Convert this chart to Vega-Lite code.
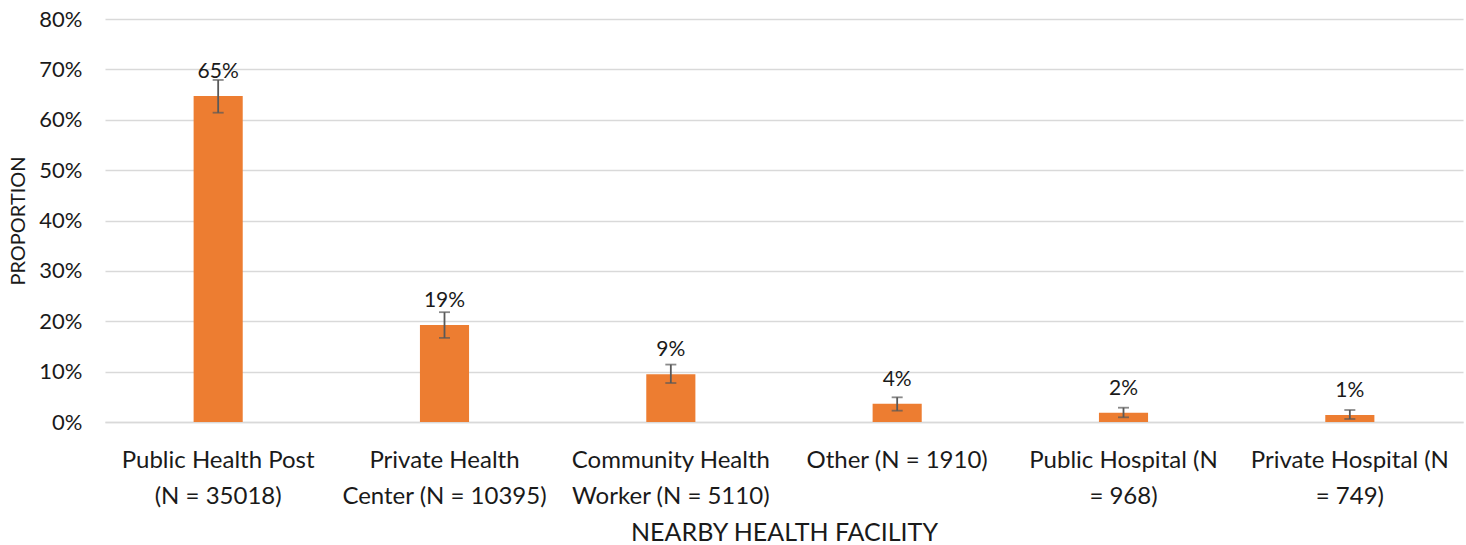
{
  "$schema": "https://vega.github.io/schema/vega-lite/v6.json",
  "width": 1358,
  "height": 403,
  "autosize": {"type": "none"},
  "padding": {"left": 105, "top": 19, "right": 3, "bottom": 123},
  "background": "white",
  "config": {
    "view": {"stroke": null},
    "font": "Lato",
    "axis": {"labelFont": "Lato", "titleFont": "Lato", "labelColor": "#1a1a1a", "titleColor": "#1a1a1a", "titleFontWeight": "normal"}
  },
  "data": {
    "values": [
      {"facility": "Public Health Post|(N = 35018)", "value": 0.647, "lo": 0.614, "hi": 0.679},
      {"facility": "Private Health|Center (N = 10395)", "value": 0.1925, "lo": 0.167, "hi": 0.218},
      {"facility": "Community Health|Worker (N = 5110)", "value": 0.0946, "lo": 0.0774, "hi": 0.114},
      {"facility": "Other (N = 1910)", "value": 0.0364, "lo": 0.0225, "hi": 0.049},
      {"facility": "Public Hospital (N|= 968)", "value": 0.0185, "lo": 0.0093, "hi": 0.0284},
      {"facility": "Private Hospital (N|= 749)", "value": 0.0139, "lo": 0.006, "hi": 0.0238}
    ]
  },
  "encoding": {
    "x": {
      "field": "facility",
      "type": "nominal",
      "sort": null,
      "scale": {"paddingInner": 0.783, "paddingOuter": 0.3915},
      "axis": {
        "title": "NEARBY HEALTH FACILITY",
        "titleFontSize": 25,
        "titlePadding": 12,
        "labelAngle": 0,
        "labelFontSize": 24,
        "labelLineHeight": 36,
        "labelPadding": 26,
        "labelLimit": 300,
        "labelOverlap": false,
        "labelExpr": "split(datum.value, '|')",
        "ticks": false,
        "domain": true,
        "domainColor": "#d9d9d9",
        "domainWidth": 1.5
      }
    }
  },
  "layer": [
    {
      "mark": {"type": "bar", "color": "#ED7D31"},
      "encoding": {
        "y": {
          "field": "value",
          "type": "quantitative",
          "scale": {"domain": [0, 0.8], "nice": false},
          "axis": {
            "title": "PROPORTION",
            "titleFontSize": 20,
            "titlePadding": 10,
            "format": ".0%",
            "values": [0, 0.1, 0.2, 0.3, 0.4, 0.5, 0.6, 0.7, 0.8],
            "labelOverlap": false,
            "labelFontSize": 22,
            "labelPadding": 23,
            "ticks": false,
            "domain": false,
            "grid": true,
            "gridColor": "#d9d9d9",
            "gridWidth": 1.5
          }
        }
      }
    },
    {
      "mark": {"type": "rule", "color": "#595959", "strokeWidth": 1.8},
      "encoding": {"y": {"field": "lo", "type": "quantitative"}, "y2": {"field": "hi"}}
    },
    {
      "mark": {"type": "tick", "color": "#595959", "size": 11, "thickness": 1.8},
      "encoding": {"y": {"field": "lo", "type": "quantitative"}}
    },
    {
      "mark": {"type": "tick", "color": "#595959", "size": 11, "thickness": 1.8},
      "encoding": {"y": {"field": "hi", "type": "quantitative"}}
    },
    {
      "mark": {"type": "text", "fontSize": 21, "baseline": "middle", "dy": -24, "color": "#1a1a1a"},
      "encoding": {
        "y": {"field": "value", "type": "quantitative"},
        "text": {"field": "value", "type": "quantitative", "format": ".0%"}
      }
    }
  ]
}
